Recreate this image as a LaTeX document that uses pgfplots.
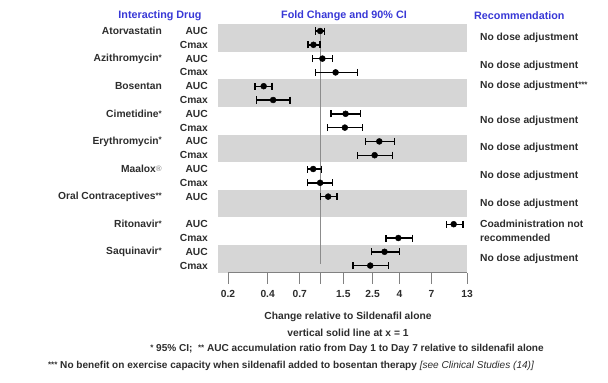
\documentclass[border=0pt]{standalone}
\usepackage{fontspec}
\setmainfont{Liberation Sans}
\usepackage{pgfplots}
\usepackage{pgfplotstable}
\pgfplotsset{compat=1.18}
\definecolor{hdr}{RGB}{56,56,214}
\definecolor{band}{RGB}{214,214,214}
\definecolor{txt}{RGB}{45,45,45}
\definecolor{vline}{RGB}{140,140,140}
\newcommand{\sm}[1]{{\fontsize{8}{8}\selectfont\raisebox{1.2bp}{#1}}}

\pgfplotstableread{
y x lo hi
-1 1.00 0.92 1.08
-2 0.89 0.81 1.00
-3 1.04 0.875 1.24
-4 1.31 0.92 1.93
-5 0.373 0.32 0.43
-6 0.44 0.33 0.59
-7 1.56 1.21 2.03
-8 1.54 1.14 2.10
-9 2.81 2.21 3.66
-10 2.59 1.93 3.54
-11 0.886 0.80 1.02
-12 1.00 0.80 1.24
-13 1.15 1.01 1.34
-15 10.3 9.06 12.1
-16 3.92 3.15 5.0
-17 3.08 2.45 4.0
-18 2.40 1.77 3.30
}\data

\begin{document}
\begin{tikzpicture}[font=\bfseries\fontsize{10.3}{12}\selectfont, text=txt]
\path[use as bounding box] (0,0) rectangle (608bp,-383bp);
\begin{axis}[
  at={(218bp,-24.1bp)}, anchor=north west,
  width=249bp, height=248.4bp, scale only axis,
  xmode=log, xmin=0.168, xmax=13,
  ymin=-18.5, ymax=-0.5,
  axis line style={draw=none},
  ytick=\empty,
  xtick={0.2,0.4,0.7,1,1.5,2.5,4,7,13},
  xticklabels={0.2,0.4,0.7,,1.5,2.5,4,7,13},
  xminorticks=false,
  tick pos=left,
  tick align=outside, major tick length=11bp,
  x tick style={line width=0.7bp, color=txt!60},
  xticklabel style={font=\bfseries\fontsize{10.3}{12}\selectfont, text=txt, yshift=-3bp},
  /pgf/number format/assume math mode=true,
  clip=false,
]
\fill[band] (axis cs:0.168,-0.5) rectangle (axis cs:13,-2.5);
\fill[band] (axis cs:0.168,-4.5) rectangle (axis cs:13,-6.5);
\fill[band] (axis cs:0.168,-8.5) rectangle (axis cs:13,-10.5);
\fill[band] (axis cs:0.168,-12.5) rectangle (axis cs:13,-14.5);
\fill[band] (axis cs:0.168,-16.5) rectangle (axis cs:13,-18.5);
\draw[vline, line width=0.8bp] (axis cs:1,-0.9) -- (axis cs:1,-17.9);
\draw[txt!60, line width=0.7bp] (axis cs:0.2,-18.5) -- (axis cs:13,-18.5);
\addplot[only marks, mark=*, mark size=3bp, black,
  error bars/.cd, x dir=both, x explicit,
  error bar style={line width=1.4bp, black},
  error mark options={rotate=90, mark size=3.5bp, line width=1.4bp, black}]
  table[x=x, y=y,
    x error plus expr=\thisrow{hi}-\thisrow{x},
    x error minus expr=\thisrow{x}-\thisrow{lo}] {\data};
\end{axis}

\begin{scope}[x=1bp, y=-13.8bp, shift={(0bp,-17.2bp)}]
% headers
\node[text=hdr, font=\bfseries\fontsize{10.8}{12}\selectfont] at (160,-0.1) {Interacting Drug};
\node[text=hdr, font=\bfseries\fontsize{10.8}{12}\selectfont] at (344,-0.1) {Fold Change and 90\% CI};
\node[text=hdr, font=\bfseries\fontsize{10.8}{12}\selectfont, anchor=west, inner sep=0] at (474,-0.1) {Recommendation};
% drug names
\foreach \r/\t in {1/Atorvastatin, 3/Azithromycin\sm{*}, 5/Bosentan, 7/Cimetidine\sm{*},
  9/Erythromycin\sm{*}, 11/Maalox{\color{gray!80}\sm{\textregistered}}, 13/Oral Contraceptives\sm{**},
  15/Ritonavir\sm{*}, 17/Saquinavir\sm{*}}
  \node[anchor=east, inner sep=0] at (162,\r) {\t};
\foreach \r in {1,3,5,7,9,11,13,15,17}
  \node[anchor=east, inner sep=0] at (208,\r) {AUC};
\foreach \r in {2,4,6,8,10,12,16,18}
  \node[anchor=east, inner sep=0] at (208,\r) {Cmax};
% recommendations
\foreach \r in {1.5,3.5,7.5,9.5,11.5,13.5,17.5}
  \node[anchor=west, inner sep=0] at (480,\r) {No dose adjustment};
\node[anchor=west, inner sep=0] at (480,5) {No dose adjustment\sm{***}};
\node[anchor=west, inner sep=0] at (480,15) {Coadministration not};
\node[anchor=west, inner sep=0] at (480,16) {recommended};
\end{scope}
% bottom texts
\node at (348bp,-317bp) {Change relative to Sildenafil alone};
\node at (348bp,-333bp) {vertical solid line at x = 1};
\node[font=\bfseries\fontsize{10.1}{11}\selectfont] at (347bp,-349bp) {\sm{*} 95\% CI;\ \ \sm{**} AUC accumulation ratio from Day 1 to Day 7 relative to sildenafil alone};
\node[font=\bfseries\fontsize{10.1}{11}\selectfont] at (291bp,-366bp) {\sm{***} No benefit on exercise capacity when sildenafil added to bosentan therapy {\mdseries\itshape [see Clinical Studies (14)]}};
\end{tikzpicture}
\end{document}
